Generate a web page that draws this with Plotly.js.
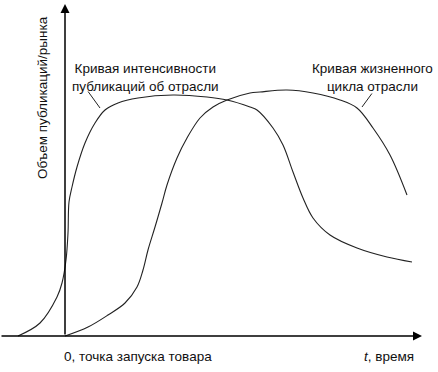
<!DOCTYPE html>
<html>
<head>
<meta charset="utf-8">
<script src="https://cdn.plot.ly/plotly-3.0.1.min.js"></script>
<style>html,body{margin:0;padding:0;background:#fff}#chart{width:438px;height:372px}</style>
</head>
<body>
<div id="chart"></div>
<script>
// Curve of publication intensity (time t, volume v)
const pubT = [-47, -25, -8, -3, 1, 3, 4, 7, 12, 20, 30, 40, 53, 73, 108, 142, 162, 185, 192, 208, 218, 228, 238, 248, 265, 292, 322, 347];
const pubV = [0, 13, 39, 53, 76, 103, 134, 149, 169, 193, 213, 226, 233, 238, 241, 239, 236, 229, 226, 208, 191, 164, 138, 118, 101, 88, 79, 74];
// Industry life-cycle curve
const lifeT = [0, 23, 43, 60, 72, 78, 83, 90, 97, 102, 112, 122, 135, 148, 162, 185, 195, 222, 248, 275, 292, 308, 325, 342];
const lifeV = [0, 9, 21, 33, 49, 66, 86, 109, 133, 151, 178, 198, 218, 229, 236, 243, 244, 246, 243, 236, 228, 208, 181, 141];

const labelPub = ["Кривая интенсивности", "публикаций об отрасли"];
const labelLife = ["Кривая жизненного", "цикла отрасли"];
const yTitle = "Объем публикаций/рынка";
const xOrigin = "0, точка запуска товара";
const xTitle = "<i>t</i>, время";

const font = {family: "Liberation Sans, Arial, sans-serif", size: 13.5, color: "#111"};
const lineStyle = {color: "#222", width: 1.1, shape: "spline", smoothing: 1};

const traces = [
  {x: pubT, y: pubV, mode: "lines", line: lineStyle, hoverinfo: "skip"},
  {x: lifeT, y: lifeV, mode: "lines", line: lineStyle, hoverinfo: "skip"}
];

const layout = {
  width: 438, height: 372,
  margin: {l: 0, r: 0, t: 0, b: 0},
  paper_bgcolor: "#fff", plot_bgcolor: "#fff",
  showlegend: false,
  xaxis: {range: [-65, 373], visible: false, fixedrange: true},
  yaxis: {range: [-36, 336], visible: false, fixedrange: true},
  font: font,
  annotations: [
    // y axis arrow
    {x: 0, y: 332, ax: 0, ay: 0, xref: "x", yref: "y", axref: "x", ayref: "y",
     showarrow: true, arrowhead: 2, arrowsize: 1.2, arrowwidth: 1.5, arrowcolor: "#000", text: ""},
    // x axis arrow
    {x: 357, y: 0, ax: -65, ay: 0, xref: "x", yref: "y", axref: "x", ayref: "y",
     showarrow: true, arrowhead: 2, arrowsize: 1.2, arrowwidth: 1.5, arrowcolor: "#000", text: ""},
    // leader lines
    {x: 35, y: 228, ax: 22, ay: 246, xref: "x", yref: "y", axref: "x", ayref: "y",
     showarrow: true, arrowhead: 0, arrowwidth: 1, arrowcolor: "#222", text: ""},
    {x: 297, y: 229, ax: 308, ay: 244, xref: "x", yref: "y", axref: "x", ayref: "y",
     showarrow: true, arrowhead: 0, arrowwidth: 1, arrowcolor: "#222", text: ""},
    // labels
    {x: 80, y: 259, xref: "x", yref: "y", showarrow: false, text: labelPub.join("<br>"),
     font: font, align: "center"},
    {x: 307, y: 259, xref: "x", yref: "y", showarrow: false, text: labelLife.join("<br>"),
     font: font, align: "center"},
    {x: -23, y: 238, xref: "x", yref: "y", showarrow: false, text: yTitle, textangle: -90,
     font: {family: font.family, size: 13.5, color: "#111"}},
    {x: 73, y: -20, xref: "x", yref: "y", showarrow: false, text: xOrigin, font: font},
    {x: 351, y: -20, xref: "x", yref: "y", showarrow: false, text: xTitle, font: font, xanchor: "right"}
  ]
};

Plotly.newPlot("chart", traces, layout, {staticPlot: true, displayModeBar: false});
</script>
</body>
</html>
